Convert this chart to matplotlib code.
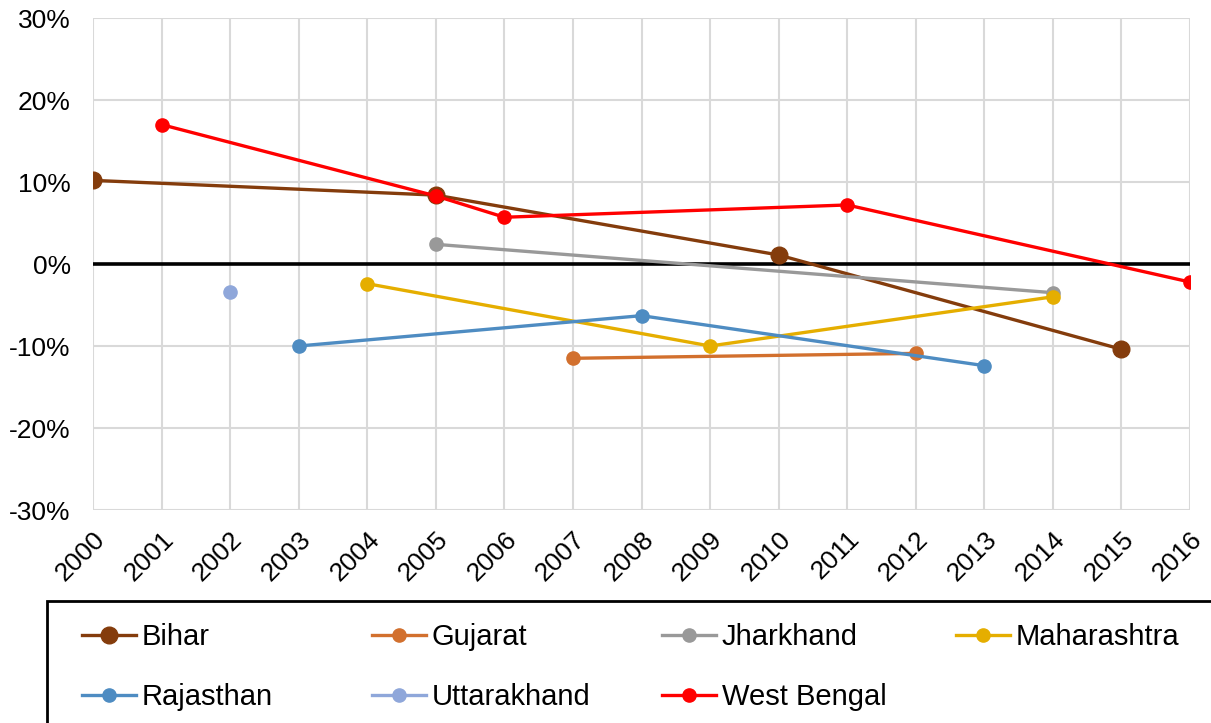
import numpy as np
from matplotlib import pyplot as plt
from matplotlib.patches import Rectangle

plt.rcParams['font.family'] = ['Liberation Sans', 'DejaVu Sans']

years = [str(y) for y in range(2000, 2017)]

# values in percent, keyed by year label
bihar_years = ["2000", "2005", "2010", "2015"]
bihar_vals = [10.2, 8.4, 1.1, -10.4]
gujarat_years = ["2007", "2012"]
gujarat_vals = [-11.5, -10.9]
jharkhand_years = ["2005", "2014"]
jharkhand_vals = [2.4, -3.5]
maharashtra_years = ["2004", "2009", "2014"]
maharashtra_vals = [-2.4, -10.0, -4.0]
rajasthan_years = ["2003", "2008", "2013"]
rajasthan_vals = [-10.0, -6.3, -12.4]
uttarakhand_years = ["2002"]
uttarakhand_vals = [-3.4]
wb_years = ["2001", "2005", "2006", "2011", "2016"]
wb_vals = [17.0, 8.3, 5.7, 7.2, -2.2]

series = [
    ("Bihar", bihar_years, bihar_vals, "#843C0C", 12),
    ("Gujarat", gujarat_years, gujarat_vals, "#D2702E", 9.5),
    ("Jharkhand", jharkhand_years, jharkhand_vals, "#999999", 9.5),
    ("Maharashtra", maharashtra_years, maharashtra_vals, "#E5AE00", 9.5),
    ("Rajasthan", rajasthan_years, rajasthan_vals, "#4E8CC2", 9.5),
    ("Uttarakhand", uttarakhand_years, uttarakhand_vals, "#8FA7DA", 9.5),
    ("West Bengal", wb_years, wb_vals, "#FF0000", 9.5),
]

W, H = 1211, 723
fig = plt.figure(figsize=(W/100, H/100), dpi=100)
ax = fig.add_axes([93/W, 1-510/H, (1190-93)/W, (510-18)/H])

pos = {y: i for i, y in enumerate(years)}
lines = []
for name, yrs, vals, col, ms in series:
    xs = [pos[y] for y in yrs]
    ln, = ax.plot(xs, vals, color=col, lw=2.4, marker="o", ms=ms, label=name, zorder=3)
    lines.append(ln)

ax.axhline(0, color="black", lw=2.6, zorder=2)

ax.set_xlim(0, len(years) - 1)
ax.set_ylim(-30, 30)
ax.set_xticks(range(len(years)))
ax.set_xticklabels(years, rotation=45, ha="right", rotation_mode="anchor")
ax.set_yticks(np.arange(-30, 31, 10))
ax.set_yticklabels([f"{v}%" for v in range(-30, 31, 10)])
ax.tick_params(labelsize=19, length=0)
ax.tick_params(axis="y", pad=16)
ax.tick_params(axis="x", pad=12)
ax.grid(True, color="#D9D9D9", lw=1.5)
ax.set_axisbelow(True)
for s in ax.spines.values():
    s.set_visible(False)

# legend frame runs off the right and bottom edges
fig.patches.append(Rectangle((47/W, -0.05), 1.1, 1-601/H + 0.05, transform=fig.transFigure,
                             fill=False, edgecolor="black", lw=2))

# one legend per column so the columns sit on a fixed pitch
col_x = [82, 372, 662, 956]
for c in range(4):
    hs = [lines[i] for i in (c, c + 4) if i < len(lines)]
    fig.legend(handles=hs, loc="upper left", bbox_to_anchor=(col_x[c]/W, 1-623/H),
               fontsize=21, frameon=False, handlelength=1.85, handletextpad=0.2,
               borderaxespad=0, borderpad=0, labelspacing=1.1)

fig.savefig("out.png", dpi=100)
